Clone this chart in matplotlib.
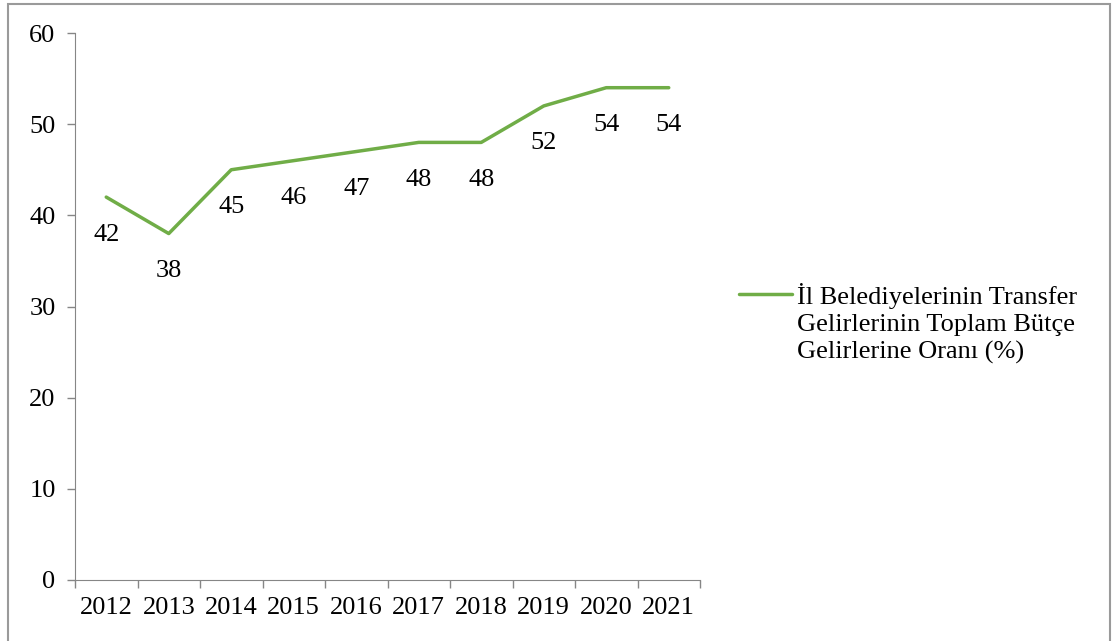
import matplotlib.pyplot as plt
from matplotlib.patches import Rectangle

years = ["2012", "2013", "2014", "2015", "2016", "2017", "2018", "2019", "2020", "2021"]
ratio = [42, 38, 45, 46, 47, 48, 48, 52, 54, 54]
series_name = "İl Belediyelerinin Transfer\nGelirlerinin Toplam Bütçe\nGelirlerine Oranı (%)"

plt.rcParams['font.family'] = ['Liberation Serif', 'DejaVu Serif']
fs = 19

W, H = 1113, 641
fig = plt.figure(figsize=(W / 100, H / 100), dpi=100)
ax = fig.add_axes([75 / W, 1 - 580 / H, 625 / W, (580 - 33) / H])

green = "#70AD47"
grey = "#868686"
x = list(range(len(years)))
ax.plot(x, ratio, color=green, lw=2.5, solid_capstyle='round', solid_joinstyle='round',
        label=series_name)
# data labels sit under each point
for xi, v in zip(x, ratio):
    ax.annotate(str(v), (xi, v), xytext=(0, -27), textcoords='offset points',
                ha='center', va='center', fontsize=fs)

ax.set_xlim(-0.5, len(years) - 0.5)
ax.set_ylim(0, 60)
ax.set_yticks(range(0, 61, 10))
ax.set_xticks(x)
ax.set_xticklabels(years)
ax.set_xticks([i - 0.5 for i in range(len(years) + 1)], minor=True)
ax.tick_params(axis='x', which='major', length=0, pad=12, labelsize=fs)
ax.tick_params(axis='x', which='minor', length=6, color=grey, width=1)
ax.tick_params(axis='y', length=6, color=grey, width=1, pad=8, labelsize=fs)
for s in ['top', 'right']:
    ax.spines[s].set_visible(False)
for s in ['left', 'bottom']:
    ax.spines[s].set_color(grey)

leg = fig.legend(loc='upper left', bbox_to_anchor=(715 / W, 1 - 259 / H), frameon=False,
                 fontsize=fs, handlelength=2.0, handletextpad=0.2, labelspacing=0.2)
leg.get_texts()[0].set_linespacing(1.3)
# put the legend line next to the first text line, like Excel does
hl = leg.get_lines()[0]
hl.set_ydata([y + 20.5 for y in hl.get_ydata()])

fig.patches.append(Rectangle((8 / W, -0.1), (1110 - 8) / W, 1.1 - 4 / H, transform=fig.transFigure,
                             fill=False, edgecolor="#9a9a9a", lw=1.5))

fig.savefig("out.png", dpi=100)
